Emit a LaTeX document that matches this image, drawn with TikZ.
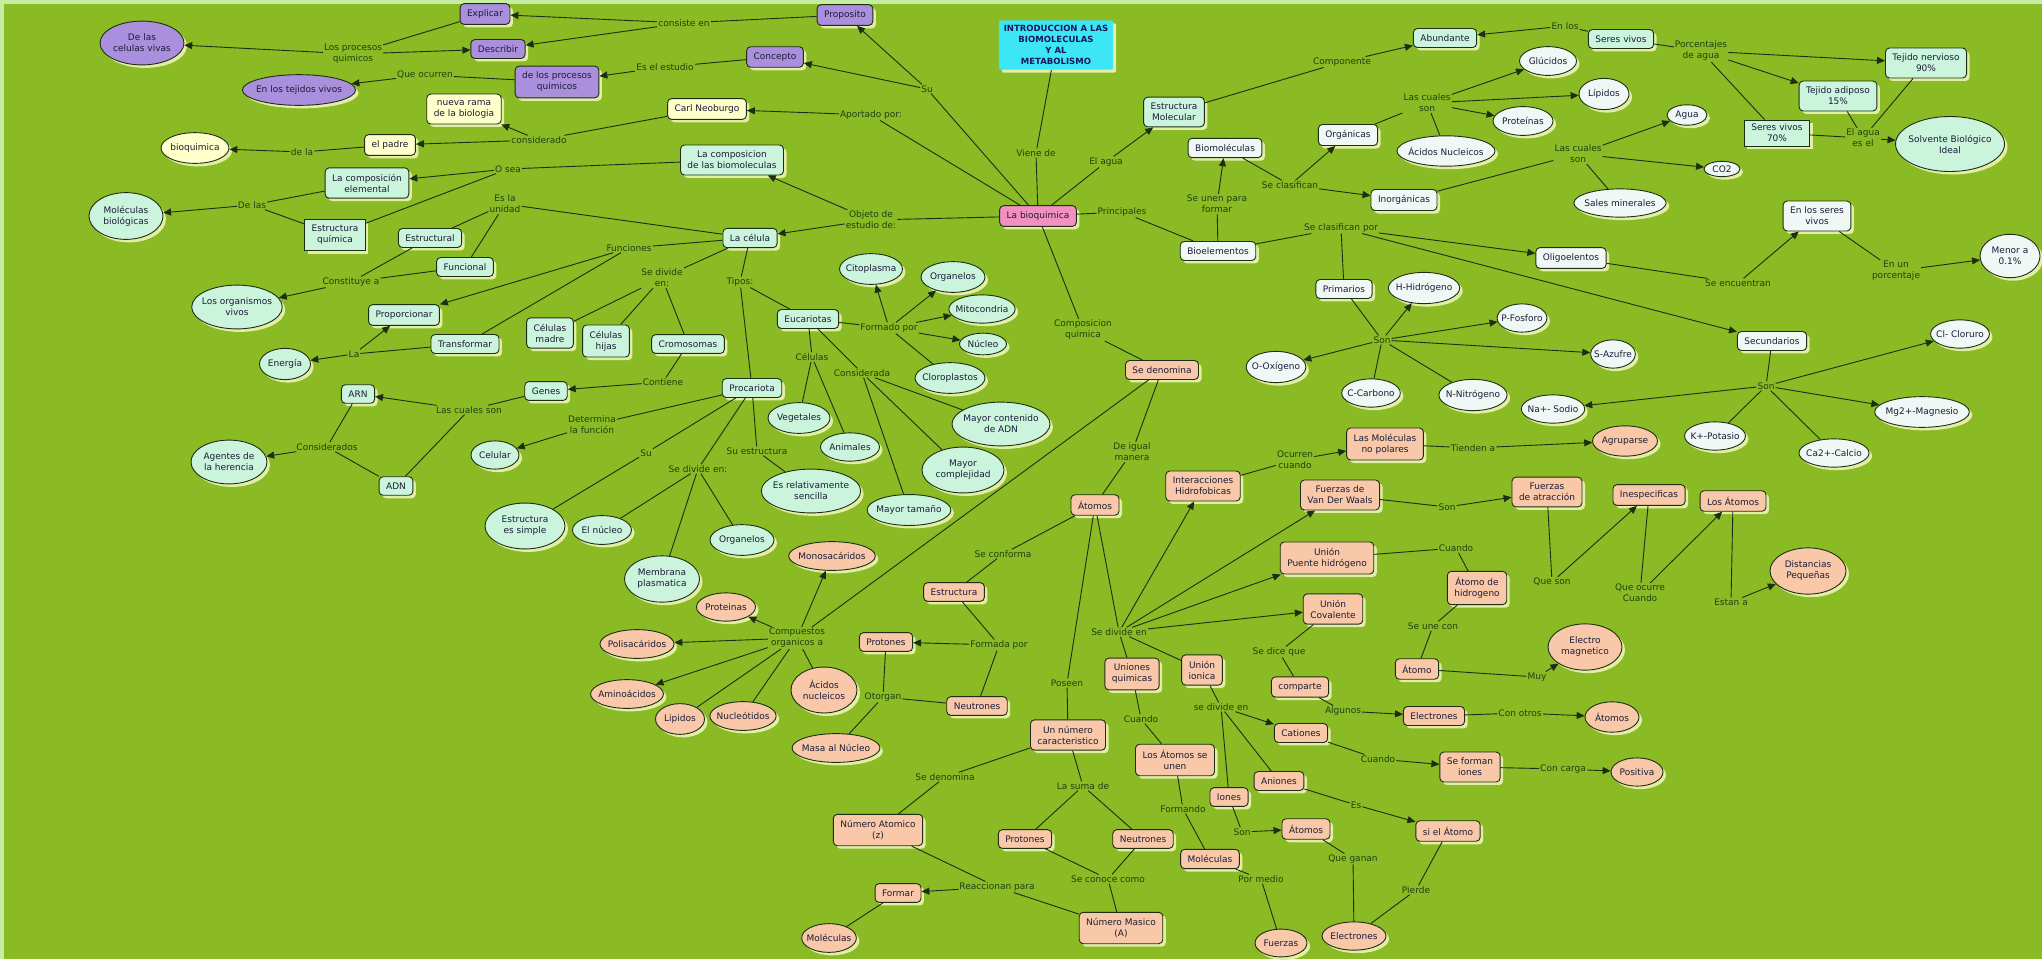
\documentclass[tikz,border=0pt]{standalone}
\usepackage{fontspec}
\setmainfont{DejaVu Sans}
\usetikzlibrary{arrows.meta,shapes.geometric,shadows}
\definecolor{bggreen}{HTML}{8ABA24}
\definecolor{bgedge}{HTML}{C6EEA2}
\definecolor{linec}{HTML}{1E2E14}
\definecolor{lnkc}{HTML}{1E4210}
\definecolor{txtc}{HTML}{1C1C38}
\definecolor{mintc}{HTML}{CBF4DD}
\definecolor{whitec}{HTML}{F0F8F6}
\definecolor{purpc}{HTML}{A98FDC}
\definecolor{yellc}{HTML}{FFFFCC}
\definecolor{pinkc}{HTML}{F291C0}
\definecolor{cyanc}{HTML}{3CE6F4}
\definecolor{salmc}{HTML}{F8C8A8}
\definecolor{shadc}{HTML}{E2EEA6}

\begin{document}
\begin{tikzpicture}[x=1pt,y=-1pt,font=\fontsize{9}{11}\selectfont,
 cbox/.style={draw=linec,line width=0.9pt,fill=#1,rounded corners=4pt,inner xsep=7pt,inner ysep=6pt,align=center,text=txtc,
  drop shadow={shadow xshift=3pt,shadow yshift=-3pt,fill=shadc,opacity=1}},
 cell/.style={ellipse,draw=linec,line width=0.9pt,fill=#1,inner xsep=-3pt,inner ysep=6.5pt,align=center,text=txtc,
  drop shadow={shadow xshift=3pt,shadow yshift=-3pt,fill=shadc,opacity=1}},
 lnk/.style={text=lnkc,inner sep=1pt,align=center},
 wire/.style={draw=linec,line width=0.9pt},
 arr/.style={wire,-{Triangle[length=8pt,width=7pt]}}]
\useasboundingbox (0,0) rectangle (2042,959);
\fill[bgedge] (0,0) rectangle (2042,959);
\fill[bggreen] (4,4) rectangle (2042,959);

% centro y titulo
\node[cbox=cyanc,draw=none,rounded corners=2pt,inner xsep=5pt,inner ysep=5pt,font=\fontsize{8.5}{11}\selectfont\bfseries,text=txtc!80!blue] (title) at (1056,45) {INTRODUCCION A LAS\\BIOMOLECULAS\\Y AL\\METABOLISMO};
\node[cbox=pinkc] (labioq) at (1038,216) {La bioquimica};

% conceptos morados y amarillos
\node[cell=purpc,minimum width=84pt] (celviv) at (142,43) {De las\\celulas vivas};
\node[cbox=purpc] (explicar) at (485,14) {Explicar};
\node[cbox=purpc] (describir) at (498,49) {Describir};
\node[cbox=purpc] (proposito) at (845,15) {Proposito};
\node[cbox=purpc] (concepto) at (775,57) {Concepto};
\node[cbox=purpc] (procq) at (557,82) {de los procesos\\quimicos};
\node[cell=purpc] (tejviv) at (299,90) {En los tejidos vivos};
\node[cbox=yellc] (nuevarama) at (464,109) {nueva rama\\de la biologia};
\node[cbox=yellc] (carl) at (707,109) {Carl Neoburgo};
\node[cbox=yellc] (padre) at (390,145) {el padre};
\node[cell=yellc,minimum width=68pt] (bioq) at (195,148) {bioquimica};

% la celula
\node[cbox=mintc] (compbio) at (732,160) {La composicion\\de las biomoleculas};
\node[cbox=mintc] (compelem) at (367,183) {La composición\\elemental};
\node[cell=mintc,minimum width=74pt] (molbio) at (126,216) {Moléculas\\biológicas};
\node[cbox=mintc,sharp corners] (estq) at (335,235) {Estructura\\química};
\node[cbox=mintc] (estructural) at (430,238) {Estructural};
\node[cbox=mintc] (funcional) at (465,267) {Funcional};
\node[cell=mintc] (orgviv) at (237,307) {Los organismos\\vivos};
\node[cbox=mintc] (proporc) at (404,315) {Proporcionar};
\node[cbox=mintc] (transf) at (465,344) {Transformar};
\node[cell=mintc,minimum width=51pt] (energia) at (285,364) {Energía};
\node[cbox=mintc] (celula) at (750,238) {La célula};
\node[cbox=mintc] (cmadre) at (550,333) {Células\\madre};
\node[cbox=mintc] (chijas) at (606,341) {Células\\hijas};
\node[cbox=mintc] (cromo) at (688,344) {Cromosomas};
\node[cbox=mintc] (genes) at (546,391) {Genes};
\node[cbox=mintc] (arn) at (358,394) {ARN};
\node[cbox=mintc] (adn) at (396,486) {ADN};
\node[cell=mintc,minimum width=76pt] (agentes) at (229,462) {Agentes de\\la herencia};
\node[cbox=mintc] (procar) at (752,388) {Procariota};
\node[cell=mintc,minimum width=48pt] (celular) at (495,455) {Celular};
\node[cell=mintc,minimum width=80pt] (estsimple) at (525,526) {Estructura\\es simple};
\node[cell=mintc,minimum width=59pt] (nucleo1) at (602,530) {El núcleo};
\node[cell=mintc,minimum width=64pt] (organ2) at (742,540) {Organelos};
\node[cell=mintc,minimum width=75pt] (membrana) at (662,579) {Membrana\\plasmatica};
\node[cell=mintc] (sencilla) at (811,491) {Es relativamente\\sencilla};
\node[cbox=mintc] (eucar) at (808,319) {Eucariotas};
\node[cell=mintc] (citopl) at (871,269) {Citoplasma};
\node[cell=mintc,minimum width=64pt] (organ1) at (953,277) {Organelos};
\node[cell=mintc] (mitoc) at (982,309) {Mitocondria};
\node[cell=mintc,minimum width=47pt,inner ysep=4pt] (nucleo2) at (983,344) {Núcleo};
\node[cell=mintc] (clorop) at (950,378) {Cloroplastos};
\node[cell=mintc,minimum width=62pt] (vegetales) at (799,418) {Vegetales};
\node[cell=mintc,minimum width=59pt] (animales) at (850,447) {Animales};
\node[cell=mintc] (mayadn) at (1001,424) {Mayor contenido\\de ADN};
\node[cell=mintc,minimum width=82pt] (maycomp) at (963,470) {Mayor\\complejidad};
\node[cell=mintc] (maytam) at (909,510) {Mayor tamaño};

% agua
\node[cbox=mintc] (estmol) at (1174,112) {Estructura\\Molecular};
\node[cbox=mintc] (abund) at (1445,38) {Abundante};
\node[cbox=mintc] (seresv) at (1621,39) {Seres vivos};
\node[cbox=mintc] (tejnerv) at (1926,63) {Tejido nervioso\\90\%};
\node[cbox=mintc] (tejadip) at (1838,96) {Tejido adiposo\\15\%};
\node[cbox=mintc,sharp corners,inner ysep=4pt] (seres70) at (1777,133) {Seres vivos\\70\%};
\node[cell=mintc,minimum height=55pt] (solvente) at (1950,144) {Solvente Biológico\\Ideal};

% bioelementos y biomoleculas
\node[cbox=whitec] (biomol) at (1225,148) {Biomoléculas};
\node[cbox=whitec] (organicas) at (1348,135) {Orgánicas};
\node[cell=whitec,minimum width=57pt] (glucidos) at (1548,61) {Glúcidos};
\node[cell=whitec,minimum width=50pt] (lipidos) at (1604,94) {Lípidos};
\node[cell=whitec,minimum width=60pt] (proteinas) at (1523,121) {Proteínas};
\node[cell=whitec] (acnuc) at (1446,151) {Ácidos Nucleicos};
\node[cbox=whitec] (inorg) at (1404,200) {Inorgánicas};
\node[cell=whitec,minimum width=40pt,inner ysep=3pt] (agua) at (1687,115) {Agua};
\node[cell=whitec,minimum width=36pt,inner ysep=2pt] (co2) at (1722,169) {CO2};
\node[cell=whitec] (sales) at (1620,203) {Sales minerales};
\node[cbox=whitec] (bioel) at (1218,251) {Bioelementos};
\node[cbox=whitec] (oligo) at (1571,258) {Oligoelentos};
\node[cbox=whitec] (enseres) at (1817,216) {En los seres\\vivos};
\node[cell=whitec,minimum width=60pt] (menor) at (2010,256) {Menor a\\0.1\%};
\node[cbox=whitec] (primarios) at (1344,289) {Primarios};
\node[cell=whitec] (hidro) at (1424,288) {H-Hidrógeno};
\node[cell=whitec] (fosforo) at (1522,318) {P-Fosforo};
\node[cell=whitec] (oxig) at (1276,367) {O-Oxígeno};
\node[cell=whitec] (carbono) at (1371,393) {C-Carbono};
\node[cell=whitec] (nitro) at (1473,395) {N-Nitrógeno};
\node[cell=whitec] (azufre) at (1613,354) {S-Azufre};
\node[cbox=whitec] (secund) at (1772,341) {Secundarios};
\node[cell=whitec] (sodio) at (1553,409) {Na+- Sodio};
\node[cell=whitec] (cloruro) at (1960,334) {Cl- Cloruro};
\node[cell=whitec] (magnesio) at (1922,412) {Mg2+-Magnesio};
\node[cell=whitec] (potasio) at (1715,436) {K+-Potasio};
\node[cell=whitec] (calcio) at (1834,453) {Ca2+-Calcio};

% composicion quimica
\node[cbox=salmc] (sedenom) at (1162,370) {Se denomina};
\node[cbox=salmc] (atomos) at (1095,505) {Átomos};
\node[cbox=salmc] (interac) at (1203,486) {Interacciones\\Hidrofobicas};
\node[cbox=salmc] (molnopol) at (1385,444) {Las Moléculas\\no polares};
\node[cell=salmc,minimum width=65pt] (agrup) at (1625,441) {Agruparse};
\node[cbox=salmc] (vdw) at (1340,495) {Fuerzas de\\Van Der Waals};
\node[cbox=salmc] (fatrac) at (1547,492) {Fuerzas\\de atracción};
\node[cbox=salmc] (inesp) at (1649,495) {Inespecificas};
\node[cbox=salmc] (losatomos) at (1733,501) {Los Átomos};
\node[cell=salmc,minimum width=76pt] (distan) at (1808,571) {Distancias\\Pequeñas};
\node[cbox=salmc] (puenteh) at (1327,558) {Unión\\Puente hidrógeno};
\node[cbox=salmc] (atomhid) at (1477,588) {Átomo de\\hidrogeno};
\node[cbox=salmc] (covalente) at (1333,609) {Unión\\Covalente};
\node[cbox=salmc] (atomo) at (1417,669) {Átomo};
\node[cell=salmc,minimum width=74pt] (electromag) at (1585,647) {Electro\\magnetico};
\node[cbox=salmc] (comparte) at (1300,687) {comparte};
\node[cbox=salmc] (unionesq) at (1132,674) {Uniones\\quimicas};
\node[cbox=salmc] (ionica) at (1202,670) {Unión\\ionica};
\node[cbox=salmc] (electrones1) at (1434,716) {Electrones};
\node[cell=salmc,minimum width=54pt] (atomos3) at (1612,717) {Átomos};
\node[cbox=salmc] (cationes) at (1301,733) {Cationes};
\node[cbox=salmc] (seforman) at (1470,767) {Se forman\\iones};
\node[cell=salmc,minimum width=52pt] (positiva) at (1637,772) {Positiva};
\node[cbox=salmc] (unnum) at (1068,735) {Un número\\caracteristico};
\node[cbox=salmc] (seunen) at (1175,760) {Los Átomos se\\unen};
\node[cbox=salmc] (aniones) at (1279,781) {Aniones};
\node[cbox=salmc] (iones) at (1229,797) {Iones};
\node[cbox=salmc] (atomos2) at (1306,829) {Átomos};
\node[cbox=salmc] (sielatomo) at (1448,831) {si el Átomo};
\node[cbox=salmc] (protones2) at (1025,839) {Protones};
\node[cbox=salmc] (neutrones2) at (1143,839) {Neutrones};
\node[cbox=salmc] (molec2) at (1210,859) {Moléculas};
\node[cbox=salmc] (nummas) at (1121,928) {Número Masico\\(A)};
\node[cell=salmc,minimum width=52pt] (fuerzas) at (1281,943) {Fuerzas};
\node[cell=salmc,minimum width=64pt] (electrones2) at (1354,936) {Electrones};
\node[cell=salmc] (monosac) at (832,556) {Monosacáridos};
\node[cell=salmc,minimum width=59pt] (proteinas2) at (726,607) {Proteinas};
\node[cbox=salmc] (estructura) at (954,592) {Estructura};
\node[cell=salmc] (polisac) at (637,644) {Polisacáridos};
\node[cbox=salmc] (protones1) at (886,642) {Protones};
\node[cell=salmc] (aminoac) at (627,694) {Aminoácidos};
\node[cell=salmc,minimum width=49pt] (lipidos2) at (680,719) {Lipidos};
\node[cell=salmc] (nucleot) at (743,716) {Nucleótidos};
\node[cell=salmc,minimum width=66pt] (acnuc2) at (824,690) {Ácidos\\nucleicos};
\node[cbox=salmc] (neutrones1) at (977,706) {Neutrones};
\node[cell=salmc] (masa) at (836,748) {Masa al Núcleo};
\node[cbox=salmc] (numat) at (878,830) {Número Atomico\\(z)};
\node[cbox=salmc] (formar) at (898,893) {Formar};
\node[cell=salmc] (molec3) at (829,938) {Moléculas};

% frases de enlace
\node[lnk] (lconsiste) at (684,23) {consiste en};
\node[lnk] (lprocesos) at (353,54) {Los procesos\\quimicos};
\node[lnk] (lesestudio) at (665,67) {Es el estudio};
\node[lnk] (lqueocurren) at (425,75) {Que ocurren};
\node[lnk] (lsu) at (927,89) {Su};
\node[lnk] (laportado) at (871,115) {Aportado por:};
\node[lnk] (lconsiderado) at (539,140) {considerado};
\node[lnk] (ldela) at (302,152) {de la};
\node[lnk] (lobjeto) at (871,220) {Objeto de\\estudio de:};
\node[lnk] (losea) at (508,169) {O sea};
\node[lnk] (ldelas) at (252,205) {De las};
\node[lnk] (lunidad) at (505,204) {Es la\\unidad};
\node[lnk] (lconstituye) at (351,282) {Constituye a};
\node[lnk] (lfunciones) at (629,248) {Funciones};
\node[lnk] (lla) at (354,354) {La};
\node[lnk] (ldivide1) at (662,278) {Se divide\\en:};
\node[lnk] (ltipos) at (740,282) {Tipos:};
\node[lnk] (lcontiene) at (663,382) {Contiene};
\node[lnk] (lcuales3) at (469,410) {Las cuales son};
\node[lnk] (lconsiderados) at (327,447) {Considerados};
\node[lnk] (lformado) at (889,328) {Formado por};
\node[lnk] (lcelulas) at (812,357) {Células};
\node[lnk] (lconsiderada) at (862,373) {Considerada};
\node[lnk] (ldetermina) at (592,425) {Determina\\la función};
\node[lnk] (lsu2) at (646,453) {Su};
\node[lnk] (lsuest) at (757,451) {Su estructura};
\node[lnk] (ldivide2) at (698,469) {Se divide en:};
\node[lnk] (lviene) at (1036,153) {Viene de};
\node[lnk] (lelagua) at (1106,162) {El agua};
\node[lnk] (lcomponente) at (1342,62) {Componente};
\node[lnk] (lenlos) at (1565,26) {En los};
\node[lnk] (lporcent) at (1701,51) {Porcentajes\\de agua};
\node[lnk] (laguaes) at (1863,138) {El agua\\es el};
\node[lnk] (lprincipales) at (1122,212) {Principales};
\node[lnk] (lseunen) at (1217,204) {Se unen para\\formar};
\node[lnk] (lclasifican) at (1290,185) {Se clasifican};
\node[lnk] (lcuales1) at (1427,103) {Las cuales\\son};
\node[lnk] (lcuales2) at (1578,154) {Las cuales\\son};
\node[lnk] (lclasifpor) at (1341,228) {Se clasifican por};
\node[lnk] (lencuentran) at (1738,283) {Se encuentran};
\node[lnk] (lporcentaje) at (1896,271) {En un\\porcentaje};
\node[lnk] (lson1) at (1382,340) {Son};
\node[lnk] (lson2) at (1766,386) {Son};
\node[lnk] (lcomposicion) at (1083,330) {Composicion\\quimica};
\node[lnk] (lcompuestos) at (797,638) {Compuestos\\organicos a};
\node[lnk] (ligual) at (1132,452) {De igual\\manera};
\node[lnk] (lconforma) at (1003,554) {Se conforma};
\node[lnk] (lformada) at (999,645) {Formada por};
\node[lnk] (lotorgan) at (883,697) {Otorgan};
\node[lnk] (ldivide3) at (1119,632) {Se divide en};
\node[lnk] (locurren) at (1295,460) {Ocurren\\cuando};
\node[lnk] (ltienden) at (1473,448) {Tienden a};
\node[lnk] (lson3) at (1447,507) {Son};
\node[lnk] (lqueson) at (1552,582) {Que son};
\node[lnk] (lqueocurre) at (1640,593) {Que ocurre\\Cuando};
\node[lnk] (lestan) at (1731,602) {Estan a};
\node[lnk] (lcuando1) at (1456,548) {Cuando};
\node[lnk] (lseune) at (1433,626) {Se une con};
\node[lnk] (lmuy) at (1537,677) {Muy};
\node[lnk] (ldice) at (1279,652) {Se dice que};
\node[lnk] (lalgunos) at (1343,711) {Algunos};
\node[lnk] (lconotros) at (1520,713) {Con otros};
\node[lnk] (lposeen) at (1067,683) {Poseen};
\node[lnk] (lcuando2) at (1141,719) {Cuando};
\node[lnk] (ldivide4) at (1221,707) {se divide en};
\node[lnk] (lcuando3) at (1378,759) {Cuando};
\node[lnk] (lconcarga) at (1563,769) {Con carga};
\node[lnk] (lsuma) at (1083,786) {La suma de};
\node[lnk] (lformando) at (1183,809) {Formando};
\node[lnk] (les) at (1356,805) {Es};
\node[lnk] (lson4) at (1242,832) {Son};
\node[lnk] (lqueganan) at (1353,859) {Que ganan};
\node[lnk] (lconoce) at (1108,879) {Se conoce como};
\node[lnk] (lpormedio) at (1261,879) {Por medio};
\node[lnk] (lpierde) at (1416,890) {Pierde};
\node[lnk] (ldenomina) at (945,777) {Se denomina};
\node[lnk] (lreaccionan) at (997,887) {Reaccionan para};

% enlaces: parte superior izquierda
\draw[wire] (proposito)--(lconsiste); \draw[arr] (lconsiste)--(explicar); \draw[arr] (lconsiste)--(describir);
\draw[wire] (explicar)--(lprocesos); \draw[arr] (lprocesos)--(celviv); \draw[arr] (lprocesos)--(describir);
\draw[wire] (concepto)--(lesestudio); \draw[arr] (lesestudio)--(procq);
\draw[wire] (procq)--(lqueocurren); \draw[arr] (lqueocurren)--(tejviv);
\draw[wire] (labioq)--(lsu); \draw[arr] (lsu)--(proposito); \draw[arr] (lsu)--(concepto);
\draw[wire] (labioq)--(laportado); \draw[arr] (laportado)--(carl);
\draw[wire] (carl)--(lconsiderado); \draw[arr] (lconsiderado)--(nuevarama); \draw[arr] (lconsiderado)--(padre);
\draw[wire] (padre)--(ldela); \draw[arr] (ldela)--(bioq);
\draw[wire] (labioq)--(lobjeto); \draw[arr] (lobjeto)--(compbio); \draw[arr] (lobjeto)--(celula);
\draw[wire] (compbio)--(losea); \draw[arr] (losea)--(compelem); \draw[wire] (losea)--(estq);
\draw[wire] (compelem)--(ldelas); \draw[wire] (estq)--(ldelas); \draw[arr] (ldelas)--(molbio);
\draw[wire] (celula)--(lunidad); \draw[wire] (lunidad)--(estructural); \draw[wire] (lunidad)--(funcional);
\draw[wire] (estructural)--(lconstituye); \draw[wire] (funcional)--(lconstituye); \draw[arr] (lconstituye)--(orgviv);
\draw[wire] (celula)--(lfunciones); \draw[arr] (lfunciones)--(proporc); \draw[wire] (lfunciones)--(transf);
\draw[wire] (transf)--(lla); \draw[arr] (lla)--(energia); \draw[arr] (lla)--(proporc);
\draw[wire] (celula)--(ldivide1); \draw[wire] (ldivide1)--(cmadre); \draw[wire] (ldivide1)--(chijas); \draw[wire] (ldivide1)--(cromo);
\draw[wire] (cromo)--(lcontiene); \draw[arr] (lcontiene)--(genes);
\draw[wire] (genes)--(lcuales3); \draw[arr] (lcuales3)--(arn); \draw[wire] (lcuales3)--(adn);
\draw[wire] (arn)--(lconsiderados); \draw[wire] (adn)--(lconsiderados); \draw[arr] (lconsiderados)--(agentes);
\draw[wire] (celula)--(ltipos); \draw[wire] (ltipos)--(eucar); \draw[wire] (ltipos)--(procar);
\draw[wire] (eucar)--(lformado); \draw[arr] (lformado)--(citopl); \draw[arr] (lformado)--(organ1);
\draw[arr] (lformado)--(mitoc); \draw[arr] (lformado)--(nucleo2); \draw[wire] (lformado)--(clorop);
\draw[wire] (eucar)--(lcelulas); \draw[wire] (lcelulas)--(vegetales); \draw[wire] (lcelulas)--(animales);
\draw[wire] (eucar)--(lconsiderada); \draw[wire] (lconsiderada)--(mayadn); \draw[wire] (lconsiderada)--(maycomp); \draw[wire] (lconsiderada)--(maytam);
\draw[wire] (procar)--(ldetermina); \draw[arr] (ldetermina)--(celular);
\draw[wire] (procar)--(lsu2); \draw[wire] (lsu2)--(estsimple);
\draw[wire] (procar)--(lsuest); \draw[wire] (lsuest)--(sencilla);
\draw[wire] (procar)--(ldivide2); \draw[wire] (ldivide2)--(nucleo1); \draw[wire] (ldivide2)--(organ2); \draw[wire] (ldivide2)--(membrana);

% enlaces: parte superior derecha
\draw[wire] (title)--(lviene); \draw[wire] (lviene)--(labioq);
\draw[wire] (labioq)--(lelagua); \draw[arr] (lelagua)--(estmol);
\draw[wire] (estmol)--(lcomponente); \draw[arr] (lcomponente)--(abund);
\draw[wire] (seresv)--(lenlos); \draw[arr] (lenlos)--(abund);
\draw[wire] (seresv)--(lporcent); \draw[arr] (lporcent)--(tejnerv); \draw[arr] (lporcent)--(tejadip); \draw[wire] (lporcent)--(seres70);
\draw[wire] (tejnerv)--(laguaes); \draw[wire] (tejadip)--(laguaes); \draw[wire] (seres70)--(laguaes); \draw[arr] (laguaes)--(solvente);
\draw[wire] (labioq)--(lprincipales); \draw[wire] (lprincipales)--(bioel);
\draw[wire] (bioel)--(lseunen); \draw[arr] (lseunen)--(biomol);
\draw[wire] (biomol)--(lclasifican); \draw[arr] (lclasifican)--(organicas); \draw[arr] (lclasifican)--(inorg);
\draw[wire] (organicas)--(lcuales1); \draw[arr] (lcuales1)--(glucidos); \draw[arr] (lcuales1)--(lipidos);
\draw[arr] (lcuales1)--(proteinas); \draw[wire] (lcuales1)--(acnuc);
\draw[wire] (inorg)--(lcuales2); \draw[arr] (lcuales2)--(agua); \draw[arr] (lcuales2)--(co2); \draw[wire] (lcuales2)--(sales);
\draw[wire] (bioel)--(lclasifpor); \draw[arr] (lclasifpor)--(oligo); \draw[wire] (lclasifpor)--(primarios); \draw[arr] (lclasifpor)--(secund);
\draw[wire] (oligo)--(lencuentran); \draw[arr] (lencuentran)--(enseres);
\draw[wire] (enseres)--(lporcentaje); \draw[arr] (lporcentaje)--(menor);
\draw[wire] (primarios)--(lson1); \draw[arr] (lson1)--(hidro); \draw[arr] (lson1)--(fosforo); \draw[arr] (lson1)--(azufre);
\draw[arr] (lson1)--(oxig); \draw[wire] (lson1)--(carbono); \draw[wire] (lson1)--(nitro);
\draw[wire] (secund)--(lson2); \draw[arr] (lson2)--(cloruro); \draw[arr] (lson2)--(sodio); \draw[arr] (lson2)--(magnesio);
\draw[wire] (lson2)--(potasio); \draw[wire] (lson2)--(calcio);

% enlaces: composicion quimica
\draw[wire] (labioq)--(lcomposicion); \draw[wire] (lcomposicion)--(sedenom);
\draw[wire] (sedenom)--(lcompuestos); \draw[arr] (lcompuestos)--(monosac); \draw[arr] (lcompuestos)--(proteinas2);
\draw[arr] (lcompuestos)--(polisac); \draw[arr] (lcompuestos)--(aminoac); \draw[wire] (lcompuestos)--(lipidos2);
\draw[wire] (lcompuestos)--(nucleot); \draw[wire] (lcompuestos)--(acnuc2);
\draw[wire] (sedenom)--(ligual); \draw[wire] (ligual)--(atomos);
\draw[wire] (atomos)--(lconforma); \draw[wire] (lconforma)--(estructura);
\draw[wire] (estructura)--(lformada); \draw[arr] (lformada)--(protones1); \draw[wire] (lformada)--(neutrones1);
\draw[wire] (protones1)--(lotorgan); \draw[wire] (neutrones1)--(lotorgan); \draw[wire] (lotorgan)--(masa);
\draw[wire] (atomos)--(ldivide3); \draw[arr] (ldivide3)--(interac); \draw[arr] (ldivide3)--(vdw);
\draw[arr] (ldivide3)--(puenteh); \draw[arr] (ldivide3)--(covalente); \draw[wire] (ldivide3)--(unionesq); \draw[wire] (ldivide3)--(ionica);
\draw[wire] (interac)--(locurren); \draw[arr] (locurren)--(molnopol);
\draw[wire] (molnopol)--(ltienden); \draw[arr] (ltienden)--(agrup);
\draw[wire] (vdw)--(lson3); \draw[arr] (lson3)--(fatrac);
\draw[wire] (fatrac)--(lqueson); \draw[arr] (lqueson)--(inesp);
\draw[wire] (inesp)--(lqueocurre); \draw[arr] (lqueocurre)--(losatomos);
\draw[wire] (losatomos)--(lestan); \draw[arr] (lestan)--(distan);
\draw[wire] (puenteh)--(lcuando1); \draw[wire] (lcuando1)--(atomhid);
\draw[wire] (atomhid)--(lseune); \draw[wire] (lseune)--(atomo);
\draw[wire] (atomo)--(lmuy); \draw[arr] (lmuy)--(electromag);
\draw[wire] (covalente)--(ldice); \draw[wire] (ldice)--(comparte);
\draw[wire] (comparte)--(lalgunos); \draw[arr] (lalgunos)--(electrones1);
\draw[wire] (electrones1)--(lconotros); \draw[arr] (lconotros)--(atomos3);
\draw[wire] (atomos)--(lposeen); \draw[wire] (lposeen)--(unnum);
\draw[wire] (unionesq)--(lcuando2); \draw[wire] (lcuando2)--(seunen);
\draw[wire] (seunen)--(lformando); \draw[wire] (lformando)--(molec2);
\draw[wire] (molec2)--(lpormedio); \draw[wire] (lpormedio)--(fuerzas);
\draw[wire] (ionica)--(ldivide4); \draw[arr] (ldivide4)--(cationes); \draw[wire] (ldivide4)--(aniones); \draw[wire] (ldivide4)--(iones);
\draw[wire] (cationes)--(lcuando3); \draw[arr] (lcuando3)--(seforman);
\draw[wire] (seforman)--(lconcarga); \draw[arr] (lconcarga)--(positiva);
\draw[wire] (iones)--(lson4); \draw[arr] (lson4)--(atomos2);
\draw[wire] (atomos2)--(lqueganan); \draw[wire] (lqueganan)--(electrones2);
\draw[wire] (aniones)--(les); \draw[arr] (les)--(sielatomo);
\draw[wire] (sielatomo)--(lpierde); \draw[wire] (lpierde)--(electrones2);
\draw[wire] (unnum)--(ldenomina); \draw[wire] (ldenomina)--(numat);
\draw[wire] (unnum)--(lsuma); \draw[wire] (lsuma)--(protones2); \draw[wire] (lsuma)--(neutrones2);
\draw[wire] (protones2)--(lconoce); \draw[wire] (neutrones2)--(lconoce); \draw[wire] (lconoce)--(nummas);
\draw[wire] (numat)--(lreaccionan); \draw[arr] (lreaccionan)--(formar); \draw[wire] (lreaccionan)--(nummas);
\draw[wire] (formar)--(molec3);
\end{tikzpicture}
\end{document}
